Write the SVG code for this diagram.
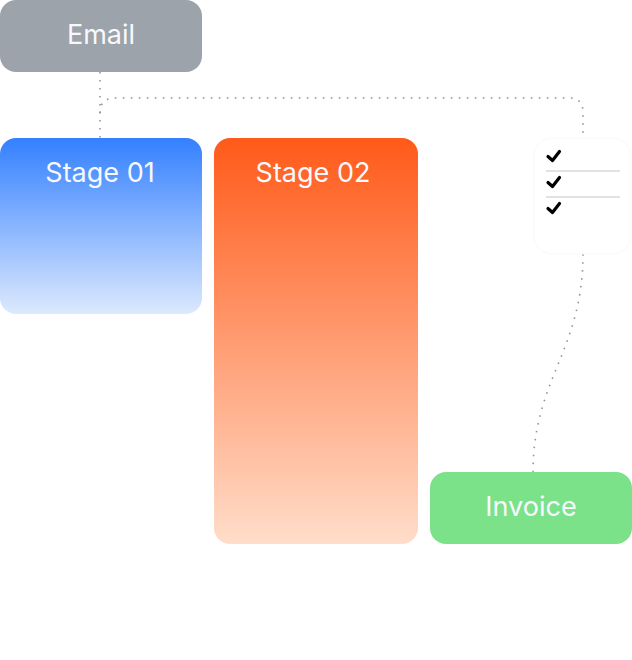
<svg xmlns="http://www.w3.org/2000/svg" width="632" height="660" viewBox="0 0 632 660">
<defs>
<linearGradient id="gBlue" x1="0" y1="0" x2="0" y2="1">
<stop offset="0" stop-color="#3380FF"/>
<stop offset="1" stop-color="#DDE9FD"/>
</linearGradient>
<linearGradient id="gOrange" x1="0" y1="0" x2="0" y2="1">
<stop offset="0" stop-color="#FF5A19"/>
<stop offset="1" stop-color="#FFDDCA"/>
</linearGradient>
<style>
.lbl{font-family:Inter,"Liberation Sans",sans-serif;font-size:27px;fill:#F7F9FC;text-anchor:middle}
.conn{fill:none;stroke:#8E96A3;stroke-width:1.6;stroke-dasharray:1.6 6.4;stroke-linecap:butt}
.chk{fill:none;stroke:#000;stroke-width:3.2;stroke-linecap:round;stroke-linejoin:round}
.sep{stroke:#E2E2E2;stroke-width:2}
</style>
</defs>
<rect width="632" height="660" fill="#FFFFFF"/>
<g id="connectors">
<path class="conn" d="M100 72 L100 138"/>
<path class="conn" d="M100 113 Q100 98 115 98 L569 98 Q583 98 583 112 L583 138"/>
<path class="conn" d="M583 254 C583 350 533 380 533 472"/>
</g>
<g id="email">
<rect x="0" y="0" width="202" height="72" rx="16" fill="#9CA3AB"/>
<text class="lbl" x="101" y="44">Email</text>
</g>
<g id="stage01">
<rect x="0" y="138" width="202" height="176" rx="16" fill="url(#gBlue)"/>
<text class="lbl" x="100" y="182">Stage 01</text>
</g>
<g id="stage02">
<rect x="214" y="138" width="204" height="406" rx="16" fill="url(#gOrange)"/>
<text class="lbl" x="313" y="182">Stage 02</text>
</g>
<g id="checklist">
<rect x="534" y="138" width="97" height="116" rx="18" fill="#FFFFFF" stroke="#F9F9F9" stroke-width="1"/>
<path class="chk" d="M548 156.5 L552.5 160.5 L559.5 151.5"/>
<line class="sep" x1="546" y1="171" x2="620" y2="171"/>
<path class="chk" d="M548 182.5 L552.5 186.5 L559.5 177.5"/>
<line class="sep" x1="546" y1="197" x2="620" y2="197"/>
<path class="chk" d="M548 208.5 L552.5 212.5 L559.5 203.5"/>
</g>
<g id="invoice">
<rect x="430" y="472" width="202" height="72" rx="16" fill="#7BE28A"/>
<text class="lbl" x="531" y="516">Invoice</text>
</g>
</svg>
